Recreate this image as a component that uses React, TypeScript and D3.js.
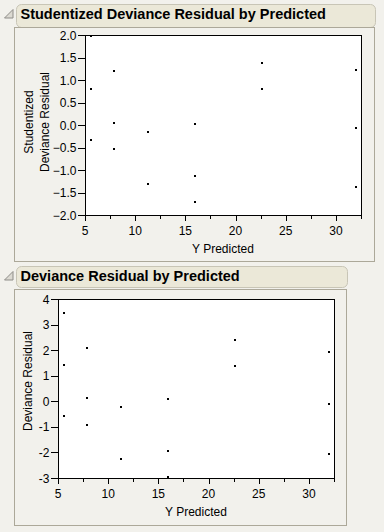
import React from "react";
import * as d3 from "d3";

const predicted = [5.58, 5.58, 5.58, 7.88, 7.88, 7.88, 11.27, 11.27, 15.95, 15.95, 15.95, 22.6, 22.6, 32.05, 32.05, 32.05];
const studentizedResid = [1.98, 0.8, -0.33, 1.2, 0.05, -0.53, -0.15, -1.31, 0.02, -1.13, -1.71, 1.38, 0.8, 1.23, -0.06, -1.37];
const devianceResid = [3.46, 1.43, -0.56, 2.1, 0.11, -0.92, -0.21, -2.24, 0.07, -1.93, -2.95, 2.41, 1.39, 1.94, -0.09, -2.08];
const xMajorTicks = [5, 10, 15, 20, 25, 30];
const xMinorTicks = [7.5, 12.5, 17.5, 22.5, 27.5, 32.5];
const topYTicks = [2, 1.5, 1, 0.5, 0, -0.5, -1, -1.5, -2];
const bottomYTicks = [4, 3, 2, 1, 0, -1, -2, -3];
const topTitle = "Studentized Deviance Residual by Predicted";
const bottomTitle = "Deviance Residual by Predicted";
const topYLabel = ["Studentized", "Deviance Residual"];
const bottomYLabel = ["Deviance Residual"];
const xLabel = "Y Predicted";

const FONT = "'Liberation Sans', Arial, sans-serif";

type PanelProps = {
  title: string;
  headerBox: [number, number, number, number];
  titleBaseline: number;
  panelBox: [number, number, number, number];
  plot: [number, number, number, number];
  yDomain: [number, number];
  yTicks: number[];
  yFmt: (v: number) => string;
  yValues: number[];
  yLabel: string[];
  yLabelX: number[];
  yLabelCenter: number;
};

function Panel(p: PanelProps) {
  const [px0, py0, px1, py1] = p.plot;
  const x = d3.scaleLinear().domain([5, 32.5]).range([px0, px1]);
  const y = d3.scaleLinear().domain(p.yDomain).range([py1, py0]);
  const [hx0, hy0, hx1, hy1] = p.headerBox;
  const [bx0, by0, bx1, by1] = p.panelBox;
  return (
    <g>
      <path
        d={`M4.5,${hy0 + 14} L13,${hy0 + 14} L13,${hy0 + 5.5} Z`}
        fill="#dcdad2"
        stroke="#8e8d88"
        strokeWidth={1}
      />
      <rect
        x={hx0 + 0.5}
        y={hy0 + 0.5}
        width={hx1 - hx0}
        height={hy1 - hy0}
        rx={5}
        fill="#ebe8d8"
        stroke="#c8c5b6"
      />
      <text x={hx0 + 4.5} y={p.titleBaseline} fontFamily={FONT} fontWeight="bold" fontSize={14.5} fill="#000">
        {p.title}
      </text>
      <rect
        x={bx0 + 0.5}
        y={by0 + 0.5}
        width={bx1 - bx0}
        height={by1 - by0}
        fill="none"
        stroke="#aca899"
      />
      <rect x={px0 + 0.5} y={py0 + 0.5} width={px1 - px0} height={py1 - py0} fill="#fff" stroke="#000" />
      {p.yTicks.map((t) => (
        <g key={"y" + t}>
          <line x1={px0 - 7} x2={px0} y1={Math.round(y(t)) + 0.5} y2={Math.round(y(t)) + 0.5} stroke="#000" />
          <text
            x={px0 - 8.5}
            y={y(t) + 4.5}
            textAnchor="end"
            fontFamily={FONT}
            fontSize={12}
            fill="#000"
          >
            {p.yFmt(t)}
          </text>
        </g>
      ))}
      {xMajorTicks.map((t) => (
        <g key={"x" + t}>
          <line x1={Math.round(x(t)) + 0.5} x2={Math.round(x(t)) + 0.5} y1={py1} y2={py1 + 6} stroke="#000" />
          <text x={x(t)} y={py1 + 20} textAnchor="middle" fontFamily={FONT} fontSize={12} fill="#000">
            {t}
          </text>
        </g>
      ))}
      {xMinorTicks.map((t) => (
        <line
          key={"m" + t}
          x1={Math.round(x(t)) + 0.5}
          x2={Math.round(x(t)) + 0.5}
          y1={py1}
          y2={py1 + 4}
          stroke="#000"
        />
      ))}
      <text x={(px0 + px1) / 2} y={py1 + 38} textAnchor="middle" fontFamily={FONT} fontSize={12} fill="#000">
        {xLabel}
      </text>
      {p.yLabel.map((s, i) => (
        <text
          key={s}
          transform={`translate(${p.yLabelX[i]},${p.yLabelCenter}) rotate(-90)`}
          textAnchor="middle"
          fontFamily={FONT}
          fontSize={12}
          fill="#000"
        >
          {s}
        </text>
      ))}
      {predicted.map((v, i) => (
        <rect
          key={i}
          x={Math.round(x(v)) - 1}
          y={Math.round(y(p.yValues[i])) - 1}
          width={2}
          height={2}
          fill="#000"
        />
      ))}
    </g>
  );
}

export default function App() {
  return (
    <svg
      width={384}
      height={532}
      style={{ position: "absolute", left: 0, top: 0, background: "#f2f1ec" }}
    >
      <rect width={384} height={532} fill="#f2f1ec" />
      <Panel
        title={topTitle}
        headerBox={[16, 4, 375, 27]}
        titleBaseline={19}
        panelBox={[14, 27, 374, 261]}
        plot={[85, 35, 361, 215]}
        yDomain={[-2, 2]}
        yTicks={topYTicks}
        yFmt={(v) => d3.format(".1f")(v)}
        yValues={studentizedResid}
        yLabel={topYLabel}
        yLabelX={[33, 49]}
        yLabelCenter={122}
      />
      <Panel
        title={bottomTitle}
        headerBox={[16, 266, 347, 287]}
        titleBaseline={281}
        panelBox={[14, 289, 346, 525]}
        plot={[58, 299, 334, 478]}
        yDomain={[-3, 4]}
        yTicks={bottomYTicks}
        yFmt={(v) => String(v)}
        yValues={devianceResid}
        yLabel={bottomYLabel}
        yLabelX={[32]}
        yLabelCenter={381}
      />
    </svg>
  );
}
